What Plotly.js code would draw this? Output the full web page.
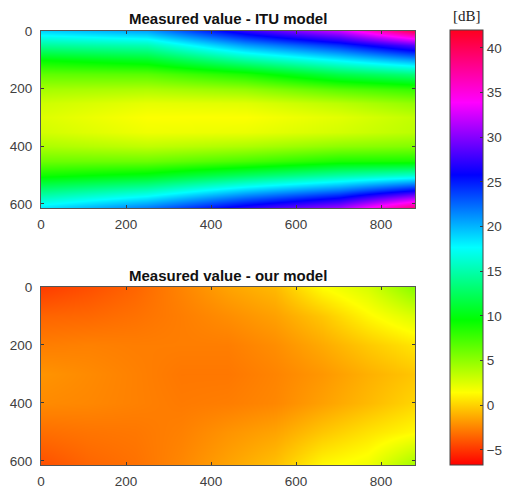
<!DOCTYPE html>
<html>
<head>
<meta charset="utf-8">
<script src="https://cdn.plot.ly/plotly-3.0.1.min.js"></script>
<style>html,body{margin:0;padding:0;background:#fff;}#chart{width:509px;height:490px;}</style>
</head>
<body>
<div id="chart"></div>
<script>
// Sample positions of the ITU grid
var xColsITU = [0, 250, 480, 700, 880];
var yRowsITU = [0, 50, 100, 150, 200, 250, 300, 350, 400, 450, 500, 550, 614];
// Sample positions of the "our model" grid
var xColsOur = [0, 110, 220, 330, 440, 550, 660, 770, 880];
var yRowsOur = [0, 100, 200, 300, 400, 500, 614];

// Measured value - ITU model [dB] (rows: yRowsITU, columns: xColsITU)
var ituValues = [
  [19,   20.5, 27,   32,   40],
  [14.4, 15.3, 20.7, 24.3, 28.6],
  [9.5,  10.6, 14.5, 17.8, 20.6],
  [6.5,  6.7,  8.7,  11.9, 13.5],
  [4.3,  4.0,  4.8,  6.75, 7.9],
  [3.0,  2.2,  2.4,  3.6,  4.9],
  [2.5,  1.5,  1.5,  2.35, 3.4],
  [2.85, 1.9,  2.05, 2.8,  3.6],
  [4.05, 3.4,  4.0,  5.0,  5.4],
  [6.1,  6.1,  7.25, 8.7,  8.8],
  [9.0,  10.1, 12.5, 14.7, 16.1],
  [13.4, 15.5, 19.1, 21.9, 25.6],
  [18.5, 22,   27,   31,   39]
];

// Measured value - our model [dB] (rows: yRowsOur, columns: xColsOur)
var ourValues = [
  [-4.8, -4.2, -3.5, -2.5, -1.5, -0.8,  1.4,  2.7,  5.3],
  [-3.5, -3.4, -3.1, -2.7, -2.2, -1.6, -0.4,  1.2,  2.6],
  [-2.7, -2.6, -2.7, -2.7, -2.7, -2.2, -1.3, -0.3,  0.6],
  [-2.0, -2.3, -2.6, -2.9, -2.9, -2.5, -1.9, -1.1, -0.4],
  [-2.3, -2.4, -2.6, -2.8, -2.7, -2.4, -1.6, -0.8,  0.1],
  [-3.2, -3.0, -2.9, -2.6, -2.0, -1.5, -0.4,  0.5,  1.3],
  [-4.2, -3.5, -3.1, -2.4, -1.5, -0.6,  1.2,  1.9,  4.4]
];

var titles = ['Measured value - ITU model', 'Measured value - our model'];
var colorbarTitle = '[dB]';
var colorbarTicks = [-5, 0, 5, 10, 15, 20, 25, 30, 35, 40];
var xTicks = [0, 200, 400, 600, 800];
var yTicks = [0, 200, 400, 600];

var hsv = [
  [0, 'rgb(255,0,0)'], [1/6, 'rgb(255,255,0)'], [2/6, 'rgb(0,255,0)'],
  [3/6, 'rgb(0,255,255)'], [4/6, 'rgb(0,0,255)'], [5/6, 'rgb(255,0,255)'],
  [1, 'rgb(255,0,30)']
];

var W = 509, H = 490;
function px(x) { return x / W; }
function py(y) { return 1 - y / H; }

var traces = [
  {type: 'heatmap', x: xColsITU, y: yRowsITU, z: ituValues, zsmooth: 'best',
   coloraxis: 'coloraxis', xaxis: 'x', yaxis: 'y', hoverinfo: 'skip'},
  {type: 'heatmap', x: xColsOur, y: yRowsOur, z: ourValues, zsmooth: 'best',
   coloraxis: 'coloraxis', xaxis: 'x2', yaxis: 'y2', hoverinfo: 'skip'}
];

var axColor = '#3a3a3a';
var tickFont = {family: 'Liberation Sans, Arial, sans-serif', size: 13.5, color: '#404040'};
function xax(anchor) {
  return {domain: [px(41), px(415)], anchor: anchor, range: [0, 880],
    tickvals: xTicks, ticks: 'inside', ticklen: 3, tickcolor: axColor,
    showline: true, linecolor: '#555', linewidth: 1, mirror: 'ticks',
    showgrid: false, zeroline: false, ticklabelstandoff: 4, tickfont: tickFont};
}
function yax(dom, anchor) {
  return {domain: dom, anchor: anchor, range: [614, 0],
    tickvals: yTicks, ticks: 'inside', ticklen: 3, tickcolor: axColor,
    showline: true, linecolor: '#555', linewidth: 1, mirror: 'ticks',
    showgrid: false, zeroline: false, ticklabelstandoff: 5, tickfont: tickFont};
}

var layout = {
  width: W, height: H,
  margin: {l: 0, r: 0, t: 0, b: 0},
  paper_bgcolor: '#fff', plot_bgcolor: '#fff',
  showlegend: false,
  xaxis: xax('y'),
  yaxis: yax([py(208), py(31)], 'x'),
  xaxis2: xax('y2'),
  yaxis2: yax([py(465), py(287)], 'x2'),
  coloraxis: {
    colorscale: hsv, cmin: -6.7, cmax: 42,
    colorbar: {
      x: px(450), xanchor: 'left', y: py(465), yanchor: 'bottom',
      len: (465 - 30) / H, lenmode: 'fraction',
      thickness: 33, thicknessmode: 'pixels', xpad: 0, ypad: 0,
      outlinewidth: 1, outlinecolor: '#444',
      tickvals: colorbarTicks, ticks: 'inside', ticklen: 3, tickcolor: axColor,
      tickprefix: ' ',
      tickfont: tickFont
    }
  },
  annotations: [
    {text: '<b>' + titles[0] + '</b>', xref: 'paper', yref: 'paper', x: px(228), y: py(18),
     xanchor: 'center', yanchor: 'middle', showarrow: false,
     font: {family: 'Liberation Sans, Arial, sans-serif', size: 15, color: '#111'}},
    {text: '<b>' + titles[1] + '</b>', xref: 'paper', yref: 'paper', x: px(228), y: py(275),
     xanchor: 'center', yanchor: 'middle', showarrow: false,
     font: {family: 'Liberation Sans, Arial, sans-serif', size: 15, color: '#111'}},
    {text: colorbarTitle, xref: 'paper', yref: 'paper', x: px(467), y: py(16),
     xanchor: 'center', yanchor: 'middle', showarrow: false,
     font: {family: 'Liberation Serif, Times New Roman, serif', size: 15, color: '#222'}}
  ]
};

Plotly.newPlot('chart', traces, layout, {displayModeBar: false, staticPlot: true});
</script>
</body>
</html>
